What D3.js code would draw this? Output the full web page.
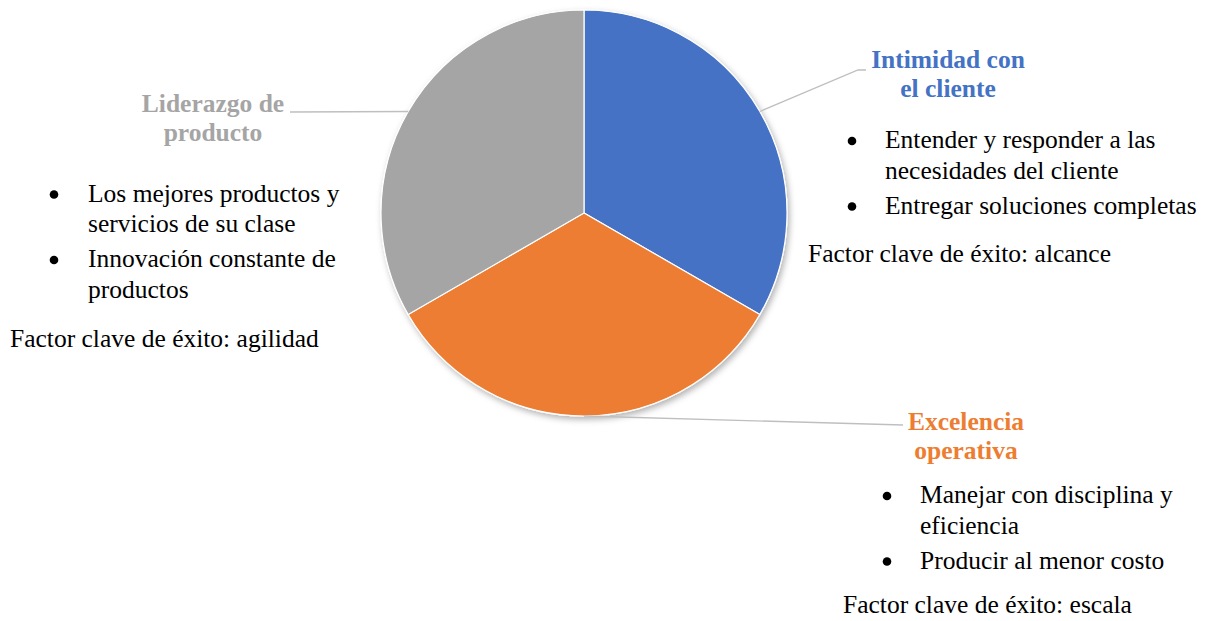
<!DOCTYPE html>
<html>
<head>
<meta charset="utf-8">
<script src="https://cdn.jsdelivr.net/npm/d3@7"></script>
<style>
  html, body { margin: 0; padding: 0; background: #fff; }
  svg { display: block; }
</style>
</head>
<body>
<svg id="chart" width="1207" height="621"></svg>
<script>
// Strategy disciplines (equal weight), in clockwise order from 12 o'clock
const categories = ["Intimidad con el cliente", "Excelencia operativa", "Liderazgo de producto"];
const values = [1, 1, 1];
const colors = ["#4472C4", "#ED7D31", "#A5A5A5"];
const titleLines = [["Intimidad con", "el cliente"], ["Excelencia", "operativa"], ["Liderazgo de", "producto"]];
const bulletLines = [
  [["Entender y responder a las", "necesidades del cliente"], ["Entregar soluciones completas"]],
  [["Manejar con disciplina y", "eficiencia"], ["Producir al menor costo"]],
  [["Los mejores productos y", "servicios de su clase"], ["Innovación constante de", "productos"]]
];
const factorLines = ["Factor clave de éxito: alcance", "Factor clave de éxito: escala", "Factor clave de éxito: agilidad"];

const FONT = "'Liberation Serif', 'Times New Roman', Tinos, serif";
const FS = 25.5;

const svg = d3.select("#chart").attr("font-family", FONT);
const cx = 584, cy = 213, r = 203;

const defs = svg.append("defs");
const f = defs.append("filter").attr("id", "shadow")
  .attr("x", "-10%").attr("y", "-10%").attr("width", "125%").attr("height", "125%");
f.append("feDropShadow").attr("dx", 2).attr("dy", 3).attr("stdDeviation", 3)
  .attr("flood-color", "#000").attr("flood-opacity", 0.3);

const pie = d3.pie().sort(null).value(d => d);
const arcs = pie(values);
const arc = d3.arc().innerRadius(0).outerRadius(r);
const edge = d3.arc().innerRadius(r).outerRadius(r);

const g = svg.append("g").attr("transform", `translate(${cx},${cy})`);
g.append("g").attr("filter", "url(#shadow)")
  .selectAll("path").data(arcs).join("path")
  .attr("d", arc)
  .attr("fill", (d, i) => colors[i])
  .attr("stroke", "#fff").attr("stroke-width", 1.2);

// Label layout: leader end point(s), title anchor, bullet block, key-factor line
const layout = [
  { lineEnd: [[858, 70], [866, 70]], title: [948, 68], bullets: { dot: 852, x: 885, y: 148 }, factor: [808, 262] },
  { lineEnd: [[903, 425]], title: [966, 430], bullets: { dot: 887, x: 920, y: 503 }, factor: [843, 613] },
  { lineEnd: [[290, 112]], title: [213, 112], bullets: { dot: 54, x: 88, y: 201.5 }, factor: [10, 346.5] }
];

const lineH = 30.5, bulletGap = 35, titleH = 29;

arcs.forEach((a, i) => {
  const L = layout[i];
  const [sx, sy] = edge.centroid(a);
  const pts = [[cx + sx, cy + sy], ...L.lineEnd];
  svg.append("path")
    .attr("d", d3.line()(pts))
    .attr("fill", "none").attr("stroke", "#BFBFBF").attr("stroke-width", 1.3);

  const t = svg.append("text")
    .attr("text-anchor", "middle").attr("font-weight", "bold")
    .attr("font-size", FS).attr("fill", colors[i]);
  titleLines[i].forEach((s, k) => {
    t.append("tspan").attr("x", L.title[0]).attr("y", L.title[1] + k * titleH).text(s);
  });

  let y = L.bullets.y;
  bulletLines[i].forEach(item => {
    svg.append("circle").attr("cx", L.bullets.dot).attr("cy", y - 7).attr("r", 4.3).attr("fill", "#000");
    item.forEach((s, k) => {
      svg.append("text").attr("x", L.bullets.x).attr("y", y + k * lineH)
        .attr("font-size", FS).attr("fill", "#000").text(s);
    });
    y += (item.length - 1) * lineH + bulletGap;
  });

  svg.append("text").attr("x", L.factor[0]).attr("y", L.factor[1])
    .attr("font-size", FS).attr("fill", "#000").text(factorLines[i]);
});
</script>
</body>
</html>
